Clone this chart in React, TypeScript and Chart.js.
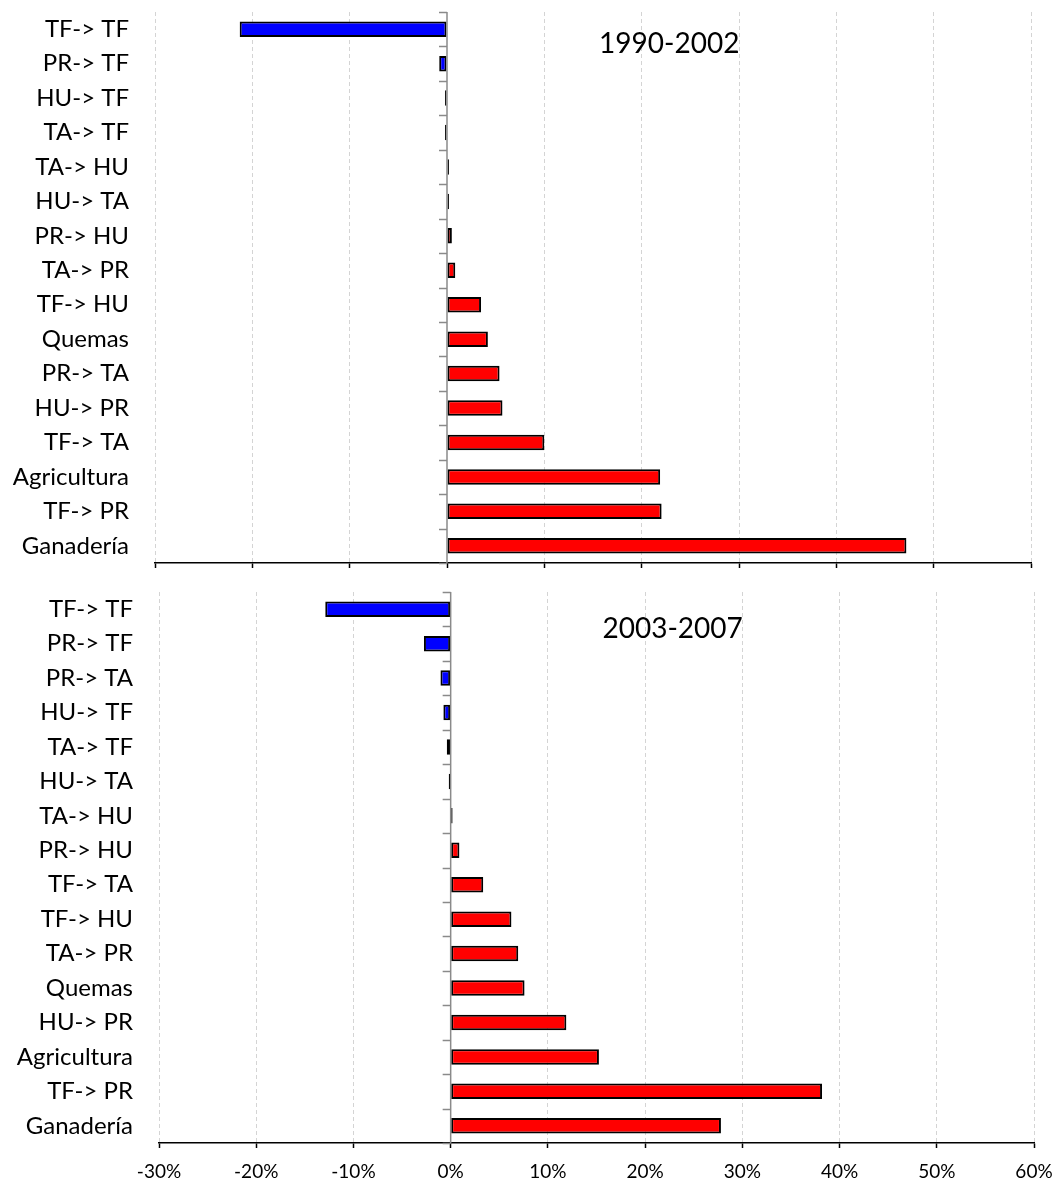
import React, { useEffect, useRef } from 'react';
import { Chart, registerables } from 'chart.js';

Chart.register(...registerables);

// ---------- Data ----------
const categories1990 = [
  'TF-> TF', 'PR-> TF', 'HU-> TF', 'TA-> TF', 'TA-> HU', 'HU-> TA', 'PR-> HU', 'TA-> PR',
  'TF-> HU', 'Quemas', 'PR-> TA', 'HU-> PR', 'TF-> TA', 'Agricultura', 'TF-> PR', 'Ganadería',
];
const values1990 = [-21.3, -0.8, -0.2, -0.2, 0.2, 0.2, 0.5, 0.85, 3.5, 4.2, 5.4, 5.7, 10.0, 21.9, 22.05, 47.2];

const categories2003 = [
  'TF-> TF', 'PR-> TF', 'PR-> TA', 'HU-> TF', 'TA-> TF', 'HU-> TA', 'TA-> HU', 'PR-> HU',
  'TF-> TA', 'TF-> HU', 'TA-> PR', 'Quemas', 'HU-> PR', 'Agricultura', 'TF-> PR', 'Ganadería',
];
const values2003 = [-12.9, -2.75, -1.05, -0.75, -0.4, -0.2, 0.2, 0.9, 3.35, 6.25, 6.95, 7.6, 11.9, 15.25, 38.2, 27.8];

// loss (blue) / gain (red) group of each bar
const isLoss1990 = [true, true, true, true, false, false, false, false, false, false, false, false, false, false, false, false];
const isLoss2003 = [true, true, true, true, false, true, false, false, false, false, false, false, false, false, false, false];

const xTickValues = [-30, -20, -10, 0, 10, 20, 30, 40, 50, 60];

const FONT = 'Lato, Carlito, Calibri, "Open Sans", sans-serif';

const zeroLinePlugin = {
  id: 'zeroLine',
  afterDatasetsDraw(chart: any) {
    const { ctx, chartArea, scales } = chart;
    const x = scales.x;
    const y = scales.y;
    const x0 = x.getPixelForValue(0);
    ctx.save();
    ctx.strokeStyle = '#8a8a8a';
    ctx.lineWidth = 1.5;
    ctx.beginPath();
    ctx.moveTo(x0, chartArea.top);
    ctx.lineTo(x0, chartArea.bottom);
    ctx.stroke();
    const n = y.ticks.length;
    const band = n > 1 ? y.getPixelForValue(1) - y.getPixelForValue(0) : chartArea.bottom - chartArea.top;
    ctx.beginPath();
    for (let i = 0; i <= n; i++) {
      const yy = Math.round(y.getPixelForValue(0) - band / 2 + i * band) + 0.5;
      ctx.moveTo(x0 - 8, yy);
      ctx.lineTo(x0, yy);
    }
    ctx.stroke();
    ctx.restore();
  },
};

const periodTitlePlugin = {
  id: 'periodTitle',
  afterDraw(chart: any, _args: any, opts: any) {
    if (!opts || !opts.text) return;
    const { ctx, chartArea } = chart;
    ctx.save();
    ctx.fillStyle = '#000';
    ctx.font = `28px ${FONT}`;
    ctx.textAlign = 'center';
    ctx.textBaseline = 'middle';
    const cx = chartArea.left + (chartArea.right - chartArea.left) * 0.587;
    ctx.fillText(opts.text, cx, chartArea.top + opts.dy);
    ctx.restore();
  },
};

function makeConfig(
  labels: string[],
  values: number[],
  loss: boolean[],
  title: string,
  titleDy: number,
  yWidth: number,
  xHeight: number,
  padRight: number,
  showXLabels: boolean,
): any {
  return {
    type: 'bar',
    data: {
      labels,
      datasets: [
        {
          data: values,
          backgroundColor: loss.map((l) => (l ? '#0000ff' : '#ff0000')),
          borderColor: '#000000',
          borderWidth: 2,
          borderSkipped: false,
          barPercentage: 0.45,
          categoryPercentage: 1,
        },
      ],
    },
    options: {
      indexAxis: 'y',
      animation: false,
      responsive: false,
      maintainAspectRatio: false,
      layout: { padding: { left: 0, right: padRight, top: 12, bottom: 0 } },
      plugins: {
        legend: { display: false },
        tooltip: { enabled: false },
        title: { display: false },
        periodTitle: { text: title, dy: titleDy },
      },
      scales: {
        x: {
          type: 'linear',
          min: -30,
          max: 60,
          afterBuildTicks: (scale: any) => {
            scale.ticks = xTickValues.map((v) => ({ value: v }));
          },
          afterFit: (scale: any) => {
            scale.height = xHeight;
            scale.paddingLeft = 0;
            scale.paddingRight = 0;
          },
          grid: {
            display: true,
            drawOnChartArea: true,
            drawTicks: true,
            tickLength: 5,
            tickColor: '#000000',
            tickWidth: 1.5,
            color: (c: any) => (c.tick && c.tick.value === 0 ? 'rgba(0,0,0,0)' : '#d4d4d4'),
            lineWidth: 1,
          },
          border: { display: true, color: '#000000', width: 1.5, dash: [4, 3] },
          ticks: {
            display: showXLabels,
            padding: 12,
            color: '#000',
            font: { family: FONT, size: 19 },
            callback: (v: any) => `${v}%`,
          },
        },
        y: {
          type: 'category',
          afterFit: (scale: any) => {
            scale.width = yWidth;
            scale.paddingTop = 0;
            scale.paddingBottom = 0;
          },
          grid: { display: false, drawTicks: false },
          border: { display: false },
          ticks: {
            padding: 26,
            color: '#000',
            font: { family: FONT, size: 24 },
            autoSkip: false,
          },
        },
      },
    },
    plugins: [zeroLinePlugin, periodTitlePlugin],
  };
}

function BarPanel(props: {
  labels: string[];
  values: number[];
  loss: boolean[];
  title: string;
  titleDy: number;
  height: number;
  yWidth: number;
  xHeight: number;
  padRight: number;
  showXLabels: boolean;
}) {
  const ref = useRef<HTMLCanvasElement | null>(null);
  useEffect(() => {
    if (!ref.current) return;
    const chart = new Chart(
      ref.current,
      makeConfig(
        props.labels,
        props.values,
        props.loss,
        props.title,
        props.titleDy,
        props.yWidth,
        props.xHeight,
        props.padRight,
        props.showXLabels,
      ),
    );
    return () => chart.destroy();
  }, []);
  return (
    <canvas
      ref={ref}
      width={1056}
      height={props.height}
      style={{ display: 'block', width: 1056, height: props.height }}
    />
  );
}

export default function App() {
  return (
    <div
      style={{
        position: 'absolute',
        left: 0,
        top: 0,
        width: 1056,
        height: 1189,
        background: '#ffffff',
      }}
    >
      <BarPanel
        labels={categories1990}
        values={values1990}
        loss={isLoss1990}
        title="1990-2002"
        titleDy={32}
        height={580}
        yWidth={155}
        xHeight={17}
        padRight={25}
        showXLabels={false}
      />
      <BarPanel
        labels={categories2003}
        values={values2003}
        loss={isLoss2003}
        title="2003-2007"
        titleDy={37}
        height={609}
        yWidth={159}
        xHeight={46}
        padRight={22}
        showXLabels={true}
      />
    </div>
  );
}
